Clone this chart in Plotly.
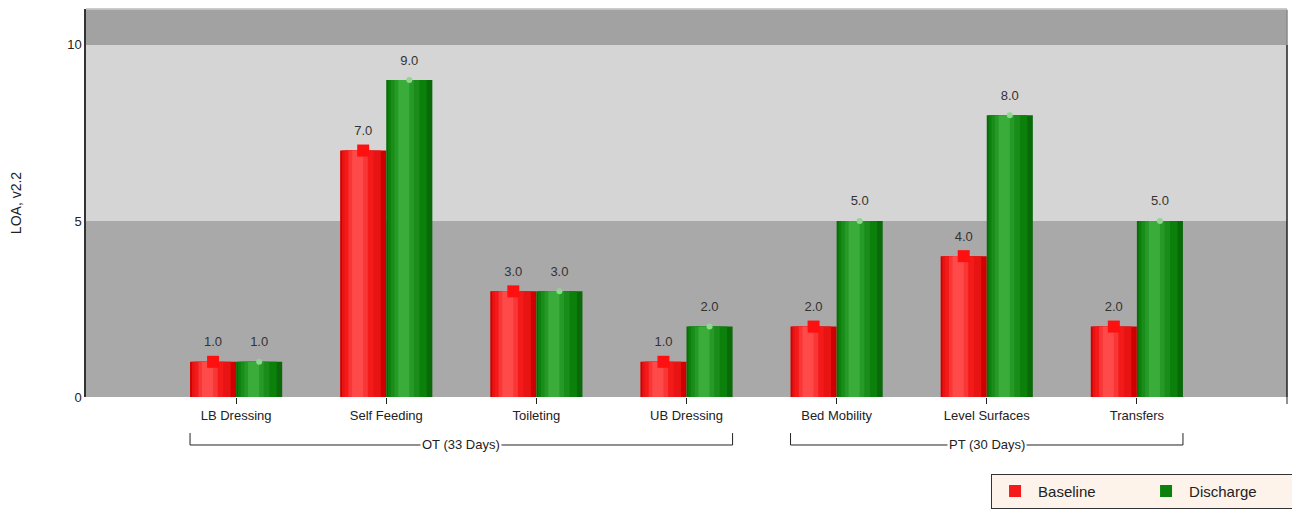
import plotly.graph_objects as go

categories = ["LB Dressing", "Self Feeding", "Toileting", "UB Dressing",
              "Bed Mobility", "Level Surfaces", "Transfers"]
baseline = [1.0, 7.0, 3.0, 1.0, 2.0, 4.0, 2.0]
discharge = [1.0, 9.0, 3.0, 2.0, 5.0, 8.0, 5.0]
groups = ["OT (33 Days)", "PT (30 Days)"]
group_first = [0, 4]
group_last = [3, 6]
band_edges = [0, 5, 10, 11]
y_ticks = [0, 5, 10]

x = list(range(len(categories)))
W = 0.307
FONT = "Arial, Liberation Sans, sans-serif"

fig = go.Figure()

# bands
band_colors = ["#a9a9a9", "#d5d5d5", "#a2a2a2"]
for i, c in enumerate(band_colors):
    fig.add_shape(type="rect", xref="paper", yref="y", x0=0, x1=1,
                  y0=band_edges[i], y1=band_edges[i + 1],
                  fillcolor=c, line_width=0, layer="below")

# cylinder shading layers: (left fraction, width fraction)
layers = [(0.0, 1.0), (0.04, 0.84), (0.1, 0.62), (0.18, 0.42), (0.26, 0.24)]


def cyl(vals, off, colors, name, legend_layer):
    for k, ((l, w), c) in enumerate(zip(layers, colors)):
        fig.add_trace(go.Bar(x=x, y=vals, width=W * w, offset=off + W * l,
                             name=name, marker=dict(color=c, line_width=0),
                             showlegend=(k == legend_layer), hoverinfo="skip"))


cyl(baseline, -W, ["#d00000", "#e81414", "#f41a1a", "#f83636", "#ff4a4a"], "Baseline", 2)
cyl(discharge, 0.0, ["#0a6a0a", "#0b800b", "#1a8c1a", "#269a26", "#3aac3a"], "Discharge", 1)

# top markers
fig.add_trace(go.Scatter(x=[v - W / 2 for v in x], y=baseline, mode="markers",
                         marker=dict(symbol="square", size=12, color="#ff1010"),
                         showlegend=False, hoverinfo="skip", cliponaxis=False))
fig.add_trace(go.Scatter(x=[v + W / 2 for v in x], y=discharge, mode="markers",
                         marker=dict(symbol="circle", size=6, color="#8fd68f"),
                         showlegend=False, hoverinfo="skip", cliponaxis=False))

# value labels
for xs, vals in (([v - W / 2 for v in x], baseline), ([v + W / 2 for v in x], discharge)):
    fig.add_trace(go.Scatter(x=xs, y=vals, mode="markers+text",
                             text=[f"{v:.1f}" for v in vals],
                             textposition="top center",
                             textfont=dict(family=FONT, size=13, color="#333333"),
                             marker=dict(size=18, opacity=0),
                             showlegend=False, hoverinfo="skip", cliponaxis=False))

# group brackets
for g, a, b in zip(groups, group_first, group_last):
    x0 = a - W
    x1 = b + W
    yb = -0.1237
    yt = -0.093
    fig.add_shape(type="line", xref="x", yref="paper", x0=x0, x1=x1, y0=yb, y1=yb,
                  line=dict(color="#222222", width=1))
    fig.add_shape(type="line", xref="x", yref="paper", x0=x0, x1=x0, y0=yb, y1=yt,
                  line=dict(color="#222222", width=1))
    fig.add_shape(type="line", xref="x", yref="paper", x0=x1, x1=x1, y0=yb, y1=yt,
                  line=dict(color="#222222", width=1))
    fig.add_annotation(x=(a + b) / 2, xref="x", y=yb, yref="paper", text=g,
                       showarrow=False, bgcolor="white", borderpad=1,
                       xanchor="center", yanchor="middle",
                       font=dict(family=FONT, size=13, color="#222222"))

# right border line and top border
fig.add_shape(type="line", xref="paper", yref="y", x0=1, x1=1, y0=0, y1=10,
              line=dict(color="#222222", width=1.5))
fig.add_shape(type="line", xref="paper", yref="y", x0=1, x1=1, y0=10, y1=11,
              line=dict(color="#888888", width=1.5))
fig.add_shape(type="line", xref="paper", yref="paper", x0=0, x1=1, y0=1, y1=1,
              line=dict(color="#999999", width=1))
fig.add_shape(type="line", xref="paper", yref="paper", x0=1, x1=1, y0=0, y1=-0.018,
              line=dict(color="#222222", width=1))

# page body has an 8px margin, so the figure is sized to end at the window edge
fig.update_layout(
    width=1292, height=508,
    margin=dict(l=78, r=13, t=1, b=119, autoexpand=False),
    paper_bgcolor="white", plot_bgcolor="rgba(0,0,0,0)",
    barmode="overlay",
    font=dict(family=FONT, size=12, color="#222222"),
    xaxis=dict(range=[-1, 7], tickmode="array", tickvals=x, ticktext=categories,
               ticks="outside", ticklen=6, tickcolor="#222222", showgrid=False,
               zeroline=False, showline=False, automargin=False,
               tickfont=dict(family=FONT, size=13, color="#222222")),
    yaxis=dict(range=[0, 11.02], tickmode="array", tickvals=y_ticks,
               showgrid=False, zeroline=False, showline=True, linecolor="#333333",
               linewidth=1.5, ticks="", automargin=False,
               title=dict(text="LOA, v2.2", standoff=44,
                          font=dict(family=FONT, size=14, color="#222222")),
               tickfont=dict(family=FONT, size=13, color="#222222")),
    legend=dict(orientation="h", x=1.0067, xanchor="right", y=-0.198, yanchor="top",
                bgcolor="#fdf3ea", bordercolor="#333333", borderwidth=1,
                font=dict(family=FONT, size=15, color="#222222"),
                itemwidth=36, entrywidth=100, traceorder="normal"),
    showlegend=True,
)

fig.write_html("out.html")
